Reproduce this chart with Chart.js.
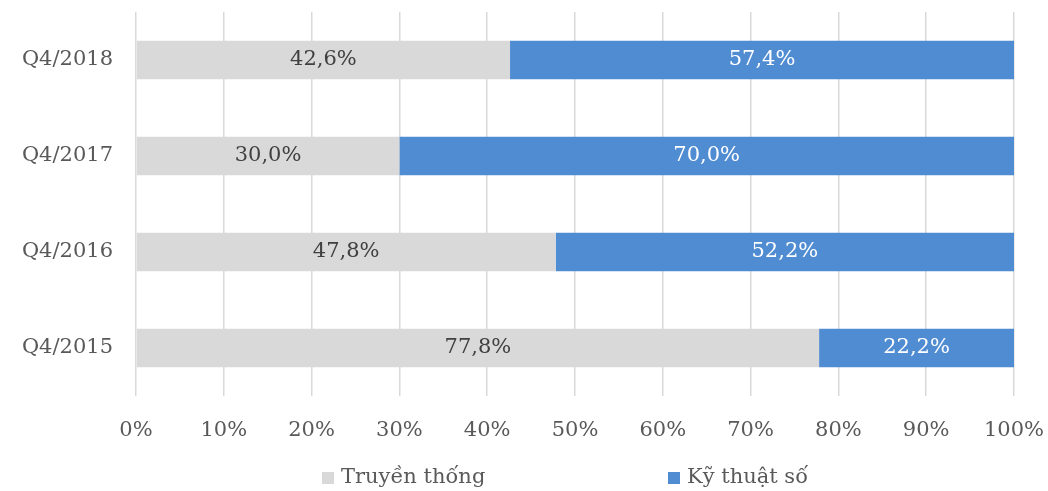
<html>
<head>
  <meta charset="UTF-8">
  <script src="https://cdn.jsdelivr.net/npm/chart.js@4.4.1/dist/chart.umd.min.js"></script>
  <style>
    html, body { margin: 0; padding: 0; background: #fff; }
    #wrap { width: 1048px; height: 491px; }
  </style>
</head>
<body>
  <div id="wrap"><canvas id="chart" width="1048" height="491"></canvas></div>
  <script>
    // quý (trục dọc, từ trên xuống)
    const quarters = ['Q4/2018', 'Q4/2017', 'Q4/2016', 'Q4/2015'];
    // tỷ trọng (%)
    const traditional = [42.6, 30.0, 47.8, 77.8];
    const digital = [57.4, 70.0, 52.2, 22.2];
    const seriesNames = ['Truyền thống', 'Kỹ thuật số'];
    const xTicks = [0, 10, 20, 30, 40, 50, 60, 70, 80, 90, 100];

    const FONT = 'DejaVu Serif';
    const fmt = v => v.toFixed(1).replace('.', ',') + '%';

    // nhãn giá trị ở giữa mỗi đoạn
    const valueLabels = {
      id: 'valueLabels',
      afterDatasetsDraw(chart) {
        const ctx = chart.ctx;
        ctx.save();
        ctx.font = '21px "' + FONT + '"';
        ctx.textAlign = 'center';
        ctx.textBaseline = 'middle';
        chart.data.datasets.forEach((ds, di) => {
          chart.getDatasetMeta(di).data.forEach((bar, i) => {
            const p = bar.getProps(['x', 'y', 'base'], true);
            ctx.fillStyle = ds.labelColor;
            ctx.fillText(fmt(ds.data[i]), (p.x + p.base) / 2, p.y);
          });
        });
        ctx.restore();
      }
    };

    // chú giải ở dưới, hai mục cách xa nhau
    const bottomLegend = {
      id: 'bottomLegend',
      afterDraw(chart) {
        const ctx = chart.ctx;
        const pos = [322, 668];
        const y = 478;
        ctx.save();
        ctx.font = '21px "' + FONT + '"';
        ctx.textBaseline = 'middle';
        ctx.textAlign = 'left';
        chart.data.datasets.forEach((ds, di) => {
          ctx.fillStyle = ds.backgroundColor;
          ctx.fillRect(pos[di], y - 6, 12, 12);
          ctx.fillStyle = '#595959';
          ctx.fillText(ds.label, pos[di] + 19, y);
        });
        ctx.restore();
      }
    };

    const ctx = document.getElementById('chart').getContext('2d');
    new Chart(ctx, {
      type: 'bar',
      data: {
        labels: quarters,
        datasets: [
          { label: seriesNames[0], data: traditional, backgroundColor: '#d9d9d9', labelColor: '#404040' },
          { label: seriesNames[1], data: digital, backgroundColor: '#508cd2', labelColor: '#ffffff' }
        ]
      },
      options: {
        indexAxis: 'y',
        responsive: false,
        animation: false,
        categoryPercentage: 0.4,
        barPercentage: 1,
        layout: { padding: { top: 12, right: 34, left: 0, bottom: 0 } },
        plugins: {
          legend: { display: false },
          tooltip: { enabled: false }
        },
        scales: {
          x: {
            stacked: true,
            min: 0,
            max: 100,
            afterBuildTicks: s => { s.ticks = xTicks.map(v => ({ value: v })); },
            afterFit: s => { s.height = 95; s.paddingLeft = 0; s.paddingRight = 0; },
            border: { display: false },
            grid: { color: '#d9d9d9', lineWidth: 1.5, drawTicks: false },
            ticks: {
              padding: 22,
              color: '#595959',
              font: { family: FONT, size: 21 },
              callback: v => v + '%'
            }
          },
          y: {
            stacked: true,
            afterFit: s => { s.width = 136; s.paddingTop = 0; s.paddingBottom = 0; },
            border: { display: false },
            grid: { display: false, drawTicks: false },
            ticks: {
              padding: 23,
              color: '#595959',
              font: { family: FONT, size: 21 }
            }
          }
        }
      },
      plugins: [valueLabels, bottomLegend]
    });
  </script>
</body>
</html>
